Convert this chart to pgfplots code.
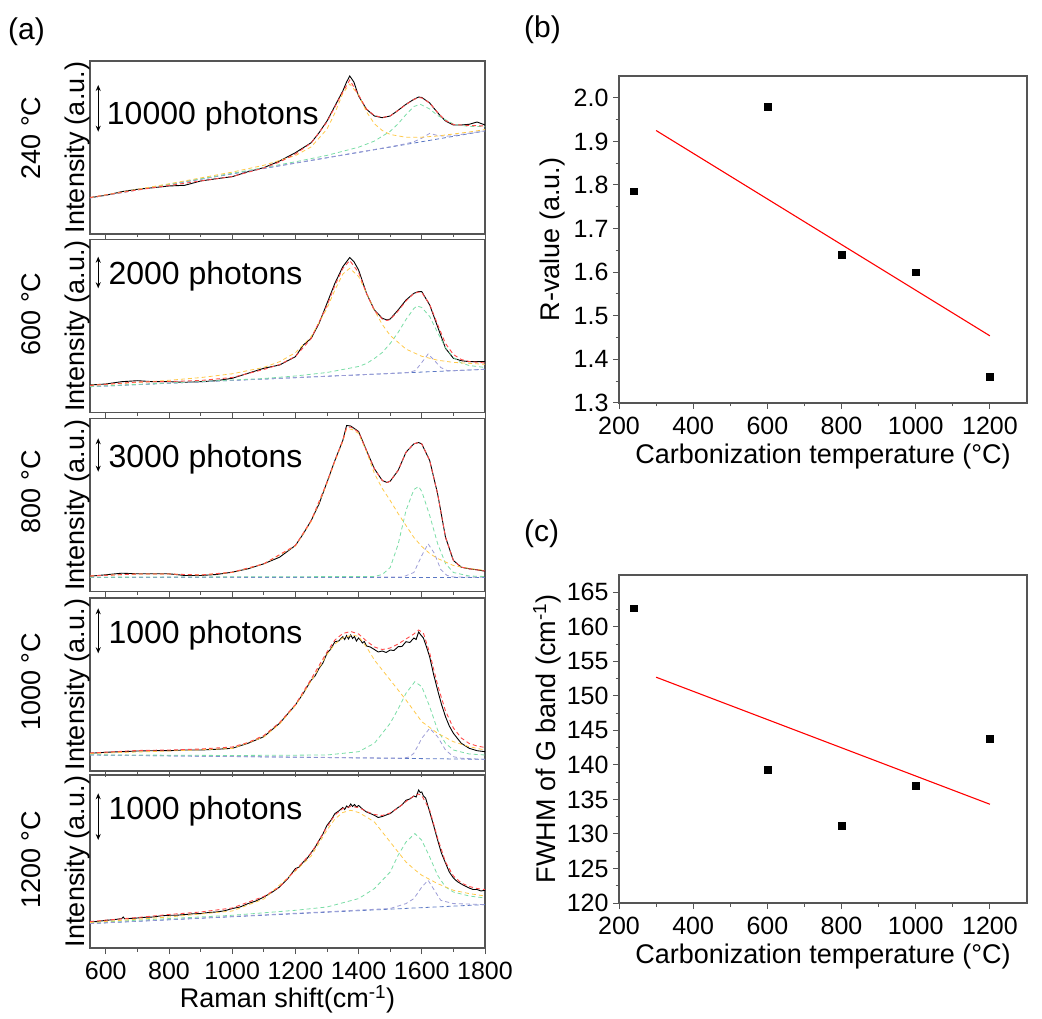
\documentclass[border=0pt]{standalone}
\usepackage{fontspec}
\setmainfont{Liberation Sans}
\usepackage{pgfplots}
\pgfplotsset{compat=1.18}
\usetikzlibrary{arrows.meta}

\definecolor{cY}{HTML}{FFC94A}
\definecolor{cG}{HTML}{7ADDA6}
\definecolor{cP}{HTML}{9C9CD6}
\definecolor{cB}{HTML}{5B78C4}
\definecolor{cR}{HTML}{FF4A4A}
\definecolor{axc}{HTML}{555555}

\tikzset{
  phot/.style={anchor=base west, inner sep=0pt, font=\fontsize{32}{36}\selectfont},
  arr/.style={line width=1pt, {Stealth[length=6pt,width=5pt]}-{Stealth[length=6pt,width=5pt]}},
}
\pgfplotsset{
  base/.style={scale only axis, tick align=outside,
    axis line style={axc, line width=1.2pt},
    every tick/.style={axc, line width=1pt},
    major tick length=6pt, minor tick length=3.5pt,
    tick label style={font=\fontsize{25}{29}\selectfont},
    xticklabel style={yshift=-5pt},
    yticklabel style={xshift=-1pt},
    label style={font=\fontsize{27}{31}\selectfont},
    /pgf/number format/assume math mode=true,
    /pgf/number format/1000 sep={}},
  spec/.style={base, width=395pt, height=173pt, anchor=south west,
    xmin=550, xmax=1800, ymin=0, ymax=173, ytick=\empty,
    xtick={600,800,...,1800}, minor x tick num=1, xtick pos=left,
    xticklabels=\empty,
    ylabel={Intensity (a.u.)},
    ylabel style={at={(axis description cs:-0.032,0.5)}, anchor=center}},
  dat/.style={black, line width=0.9pt},
  fitc/.style={cR, line width=0.9pt, dash pattern=on 4pt off 3pt},
  dD/.style={cY, line width=0.8pt, dash pattern=on 4pt off 3pt},
  dG/.style={cG, line width=0.8pt, dash pattern=on 4pt off 3pt},
  dP/.style={cP, line width=0.8pt, dash pattern=on 4pt off 3pt},
  dB/.style={cB, line width=0.8pt, dash pattern=on 4pt off 3pt},
}

\begin{document}
\begin{tikzpicture}
\useasboundingbox (0,0) rectangle (1042pt,1018pt);

% ---------- panel labels ----------
\node[font=\fontsize{30}{34}\selectfont] at (26.5pt,986.5pt) {(a)};
\node[font=\fontsize{30}{34}\selectfont] at (542.5pt,988pt) {(b)};
\node[font=\fontsize{30}{34}\selectfont] at (541.5pt,484.5pt) {(c)};

% temperature labels
\node[rotate=90, font=\fontsize{27}{30}\selectfont] at (31pt,880pt) {240 °C};
\node[rotate=90, font=\fontsize{27}{30}\selectfont] at (31pt,704pt) {600 °C};
\node[rotate=90, font=\fontsize{27}{30}\selectfont] at (31pt,526.3pt) {800 °C};
\node[rotate=90, font=\fontsize{27}{30}\selectfont] at (31pt,336.3pt) {1000 °C};
\node[rotate=90, font=\fontsize{27}{30}\selectfont] at (31pt,158pt) {1200 °C};

% ---------- panel 1: 240 C ----------
\begin{axis}[spec, at={(90pt,784pt)}]
\addplot[dat] coordinates {(550,36.3)(600,38.7)(650,42.3)(700,44.7)(750,46.3)(800,48)(850,48.7)(900,53)(950,55.3)(1000,57.3)(1050,62.3)(1100,66.3)(1150,73)(1200,81.3)(1225,86.3)(1250,91.3)(1275,101.3)(1300,113)(1325,128)(1350,143)(1362,152)(1372,158)(1385,152)(1400,138)(1425,124.7)(1450,118)(1475,116.3)(1500,118)(1525,123.7)(1550,129.7)(1575,134.7)(1590,137)(1600,136.5)(1625,131)(1650,121.3)(1675,113)(1700,109)(1725,109)(1750,109.7)(1775,112)(1800,109)};
\addplot[dB] coordinates {(550,36)(1800,103)};
\addplot[dP] coordinates {(550,36)(1500,87.2)(1550,90.3)(1575,92.3)(1600,95.8)(1625,100.6)(1650,98.5)(1675,97.7)(1700,98.4)(1800,103.2)};
\addplot[dG] coordinates {(550,36.2)(800,49.7)(1000,60.7)(1100,66.4)(1200,72.2)(1300,78.6)(1400,86.8)(1450,92.9)(1500,102.7)(1525,110.2)(1550,119.4)(1575,127.5)(1595,129.7)(1625,125)(1650,118.5)(1700,110)(1750,107.4)(1800,107.4)};
\addplot[dD] coordinates {(550,36.4)(800,50.2)(1000,61.9)(1100,68.7)(1200,78.4)(1250,87.1)(1300,104.9)(1325,121)(1350,140.6)(1372,150)(1400,139)(1425,122.2)(1450,110.2)(1475,103.5)(1500,99.5)(1550,96.7)(1600,96.8)(1650,98)(1700,100)(1750,102)(1800,104.4)};
\addplot[fitc] coordinates {(550,36.5)(700,44)(800,48.5)(900,53)(1000,57.5)(1100,66)(1150,72)(1200,80)(1250,91)(1300,112)(1325,127)(1350,142)(1372,154)(1400,139)(1425,125)(1450,118.5)(1475,116.5)(1500,118)(1525,123.5)(1550,129.5)(1575,134.5)(1590,136.5)(1600,136)(1625,131)(1650,121.5)(1675,113.5)(1700,109.5)(1750,108.5)(1800,108)};
\draw[arr] (axis cs:576,102.3) -- (axis cs:576,149);
\node[phot] at (axis cs:603,109.7) {10000 photons};
\end{axis}

% ---------- panel 2: 600 C ----------
\begin{axis}[spec, at={(90pt,605.5pt)}]
\addplot[dat] coordinates {(550,27.5)(600,28.5)(650,30.8)(700,31.8)(750,30.8)(800,30.8)(850,30.2)(900,30.8)(950,31.8)(1000,34.2)(1050,39.2)(1100,44.2)(1150,47.5)(1200,55.8)(1225,67.5)(1250,74.2)(1275,89.2)(1300,109.2)(1325,129.2)(1350,145.8)(1372,155)(1385,151)(1400,142.5)(1425,119.2)(1450,102.5)(1475,94.2)(1490,92.5)(1500,93.5)(1525,102.5)(1550,112.5)(1575,119.2)(1590,121)(1600,120.8)(1625,107.5)(1650,85.8)(1675,64.2)(1700,54.2)(1725,51.8)(1750,50.8)(1775,50.8)(1800,50.8)};
\addplot[dB] coordinates {(550,25.8)(1800,43.2)};
\addplot[dP] coordinates {(550,25.8)(1540,39.6)(1560,40.2)(1580,42)(1600,50)(1620,58.5)(1640,52)(1660,45)(1680,42)(1700,41.8)(1800,43.2)};
\addplot[dG] coordinates {(550,26)(800,29.5)(1000,32.5)(1100,34)(1200,36.5)(1300,40)(1350,43)(1400,46)(1425,49)(1450,54)(1475,60)(1500,69)(1525,80)(1550,93)(1575,104)(1585,106.5)(1600,105)(1625,96)(1650,80)(1675,65)(1700,55)(1725,49.5)(1750,47)(1800,45)};
\addplot[dD] coordinates {(550,27.2)(700,30)(800,32.2)(900,34.9)(1000,38.7)(1100,45.1)(1150,50.8)(1200,59.8)(1250,75.9)(1300,104.2)(1325,122.5)(1350,138.4)(1372,144.2)(1400,136)(1425,119.5)(1450,102.2)(1475,88)(1500,77)(1550,63.4)(1600,56.2)(1650,52.3)(1700,50.1)(1800,48.2)};
\addplot[fitc] coordinates {(550,27)(700,30.5)(800,31)(900,32)(1000,35)(1100,43)(1150,48)(1200,56)(1250,74)(1300,107)(1325,127)(1350,144)(1372,152)(1400,140)(1425,119)(1450,102)(1475,93.5)(1490,92)(1500,93)(1525,101.5)(1550,111.5)(1575,119)(1590,120.5)(1600,120)(1625,108)(1650,88)(1675,69)(1700,58)(1725,53)(1750,51)(1800,49.5)};
\draw[arr] (axis cs:576,124.2) -- (axis cs:576,155.8);
\node[phot] at (axis cs:608,127.5) {2000 photons};
\end{axis}

% ---------- panel 3: 800 C ----------
\begin{axis}[spec, at={(90pt,426.5pt)}]
\addplot[dat] coordinates {(550,15.3)(600,16.7)(650,18.3)(700,17.7)(750,17.7)(800,17.7)(850,16)(900,16)(950,17)(1000,19.3)(1050,22.7)(1100,27.7)(1150,34.3)(1200,46)(1225,57.7)(1250,71)(1275,87.7)(1300,109.3)(1325,131)(1350,151)(1362,166)(1375,165.5)(1400,160)(1425,141)(1450,122.7)(1475,111)(1490,109)(1500,110.3)(1525,121)(1550,139.3)(1575,147.7)(1590,149)(1600,147.5)(1625,131)(1650,97.7)(1675,54.3)(1700,31)(1725,24.3)(1750,22.7)(1775,21.7)(1800,20.3)};
\addplot[dB] coordinates {(550,14.3)(1800,14.3)};
\addplot[dP] coordinates {(550,14.3)(1540,14.5)(1575,19)(1600,36)(1620,47.7)(1640,38)(1660,22)(1680,16)(1700,14.5)(1800,14.3)};
\addplot[dG] coordinates {(550,14.3)(1450,15)(1475,17)(1500,24)(1525,47)(1550,81)(1575,102)(1590,105)(1600,100)(1625,76)(1650,48)(1675,28)(1700,19)(1750,15.5)(1800,15)};
\addplot[dD] coordinates {(550,15.5)(700,17.5)(800,17.5)(900,16.5)(1000,19)(1100,27.5)(1200,45.5)(1250,70)(1300,108)(1325,130)(1350,150)(1362,163)(1380,162)(1400,158)(1425,140)(1450,118)(1475,103)(1500,91)(1525,78)(1550,66)(1575,54)(1600,45)(1625,38)(1650,33)(1700,26)(1750,23)(1800,21)};
\addplot[fitc] coordinates {(550,15.5)(700,17.5)(800,17.5)(900,16.5)(1000,19.3)(1100,27.7)(1200,46)(1250,71)(1300,109.3)(1325,131)(1350,151)(1362,164)(1375,164.5)(1400,159.5)(1425,141)(1450,122.7)(1475,111)(1490,109)(1500,110.3)(1525,121)(1550,139.3)(1575,147.7)(1590,149)(1600,147.5)(1625,131)(1650,97.7)(1675,54.3)(1700,31)(1725,24.3)(1750,22.7)(1800,20.5)};
\draw[arr] (axis cs:576,119.8) -- (axis cs:576,153.2);
\node[phot] at (axis cs:608,124.3) {3000 photons};
\end{axis}

% ---------- panel 4: 1000 C ----------
\begin{axis}[spec, at={(90pt,247pt)}]
\addplot[dat] coordinates {(550,17.7)(600,18.7)(650,19.3)(700,20)(750,20.3)(800,20.3)(850,21)(900,21)(950,21.7)(1000,22.7)(1050,27.7)(1100,34.3)(1150,47.7)(1200,66)(1225,77.7)(1250,91)(1262,95)(1275,102.7)(1287,108)(1300,117.7)(1312,122)(1325,129.3)(1337,130)(1350,134.3)(1356,131.5)(1362,135.5)(1368,132)(1375,136)(1381,132.5)(1387,134.5)(1393,130)(1400,133)(1406,131)(1412,128)(1418,129.5)(1425,125)(1437,124)(1450,121.5)(1462,119)(1475,120)(1487,118.5)(1500,121)(1512,120.5)(1525,124.3)(1537,124.5)(1550,129.3)(1562,128.5)(1575,133)(1582,131.5)(1590,139)(1597,136)(1605,133)(1615,124)(1625,114)(1637,97)(1650,81)(1662,67)(1675,54.3)(1687,45)(1700,37.7)(1725,27.7)(1750,22.7)(1775,20.3)(1800,19.3)};
\addplot[dB] coordinates {(550,16)(1800,11.7)};
\addplot[dP] coordinates {(550,16)(1540,12.8)(1560,14)(1575,17.7)(1600,32.7)(1625,42.7)(1650,34.3)(1675,21)(1700,14.3)(1725,12.7)(1800,11.7)};
\addplot[dG] coordinates {(550,16.2)(1000,15.5)(1300,16)(1400,19.3)(1450,27.7)(1500,47.7)(1525,62)(1550,77.7)(1578,89.3)(1600,84.3)(1625,64.3)(1650,41)(1675,27.7)(1700,21)(1750,17)(1800,16)};
\addplot[dD] coordinates {(550,17.5)(800,20)(1000,22.5)(1100,34)(1150,47)(1200,65.5)(1250,90)(1300,116.5)(1325,127)(1350,133)(1380,136)(1400,134.5)(1425,124)(1450,111)(1500,91)(1550,71)(1600,49.3)(1650,37.7)(1700,29.3)(1750,24.3)(1800,21)};
\addplot[fitc] coordinates {(550,18)(700,20.5)(800,21)(900,22)(1000,24)(1050,28.5)(1100,35.5)(1150,48.5)(1200,66.5)(1250,92)(1300,119)(1325,131)(1350,137.5)(1375,139.5)(1400,137)(1425,130)(1450,124)(1475,121.5)(1500,123)(1525,127)(1550,132)(1575,137)(1590,141)(1605,138)(1625,118)(1650,86)(1675,60)(1700,43)(1725,33)(1750,27.5)(1775,25)(1800,23.5)};
\draw[arr] (axis cs:576,117.7) -- (axis cs:576,162.7);
\node[phot] at (axis cs:608,127.7) {1000 photons};
\end{axis}

% ---------- panel 5: 1200 C ----------
\begin{axis}[spec, at={(90pt,70pt)},
  xticklabels={600,800,1000,1200,1400,1600,1800},
  xlabel={Raman shift(cm\textsuperscript{-1})},
  xlabel style={at={(axis description cs:0.5,-0.297)}, anchor=center, inner sep=0pt}]
\addplot[dat] coordinates {(550,26)(575,26.5)(600,27.7)(625,28.3)(650,29.4)(655,31)(660,29.2)(700,30)(725,30.7)(750,31)(775,32.2)(800,32.7)(825,32.8)(850,33.4)(875,34.2)(900,34.4)(925,35.5)(950,36)(975,37.2)(1000,39.4)(1025,41)(1050,44.4)(1075,47)(1100,51)(1125,55.5)(1150,61)(1175,69)(1200,79.4)(1212,81)(1225,86)(1237,89.5)(1250,95.4)(1262,100.5)(1275,107.7)(1287,114)(1300,122.7)(1312,127.5)(1325,134.4)(1337,137)(1350,140.5)(1356,138.5)(1362,142)(1368,140.5)(1375,144)(1381,141.5)(1387,143.5)(1393,141)(1400,142.5)(1412,139)(1425,136)(1437,134.5)(1450,132.7)(1462,130.5)(1475,131.5)(1487,133)(1500,134.4)(1512,137.5)(1525,140.5)(1537,143)(1550,147.7)(1562,149)(1575,152)(1582,151)(1590,158)(1595,155.5)(1600,156)(1605,152)(1612,150)(1625,136)(1637,123)(1650,108)(1662,95)(1675,85)(1687,76)(1700,70)(1712,66.5)(1725,64)(1737,62)(1750,60)(1762,58.5)(1775,58.5)(1787,57)(1800,57.7)};
\addplot[dB] coordinates {(550,24.4)(1800,43.4)};
\addplot[dP] coordinates {(550,24.4)(1500,39.5)(1550,44.4)(1575,49.4)(1600,61)(1620,67.7)(1640,57.7)(1660,47.7)(1700,44.4)(1800,43.4)};
\addplot[dG] coordinates {(550,25.4)(800,29.4)(1000,32.7)(1200,37.7)(1300,41)(1400,49.4)(1450,59.4)(1500,76)(1525,92.7)(1550,106)(1578,114.4)(1600,107.7)(1625,91)(1650,72.7)(1675,61)(1700,56)(1750,52)(1800,50)};
\addplot[dD] coordinates {(550,25.5)(800,31)(1000,37)(1100,49)(1200,77)(1250,92)(1300,118)(1325,129)(1350,135.5)(1375,137.7)(1400,135.5)(1425,131)(1450,126)(1475,116)(1500,106)(1525,96)(1550,86)(1575,79)(1600,72.7)(1650,64.4)(1700,57.7)(1750,54.4)(1800,52)};
\addplot[fitc] coordinates {(550,26.5)(700,30.5)(800,33.5)(900,36)(1000,40)(1100,51.5)(1150,61)(1200,78)(1250,95)(1300,121)(1325,133)(1350,139.5)(1375,141.5)(1400,140.5)(1425,136.5)(1450,133.5)(1475,132.5)(1500,135)(1525,140)(1550,146.5)(1575,152)(1590,154)(1600,152.5)(1625,138)(1650,110)(1675,86)(1700,72)(1725,65)(1750,61.5)(1775,59.5)(1800,58.5)};
\draw[arr] (axis cs:576,108) -- (axis cs:576,154.7);
\node[phot] at (axis cs:608,128) {1000 photons};
\end{axis}

% ---------- panel (b) ----------
\begin{axis}[base, width=408pt, height=327pt, at={(619pt,615pt)}, anchor=south west,
  xmin=200, xmax=1300, ymin=1.3, ymax=2.05,
  xtick={200,400,...,1200}, ytick={1.3,1.4,1.5,1.6,1.7,1.8,1.9,2.0},
  minor x tick num=1, minor y tick num=1, tick pos=left,
  yticklabel style={/pgf/number format/.cd, fixed, fixed zerofill, precision=1},
  xlabel={Carbonization temperature (°C)},
  ylabel={R-value (a.u.)},
  xlabel style={at={(axis description cs:0.5,-0.165)}, anchor=center},
  ylabel style={at={(axis description cs:-0.163,0.5)}, anchor=center}]
\addplot[red, line width=1.1pt] coordinates {(300,1.925)(1200,1.454)};
\addplot[only marks, mark=square*, mark size=3.4pt, black] coordinates {(240,1.786)(600,1.98)(800,1.64)(1000,1.60)(1200,1.361)};
\end{axis}

% ---------- panel (c) ----------
\begin{axis}[base, width=408pt, height=328pt, at={(619pt,115pt)}, anchor=south west,
  xmin=200, xmax=1300, ymin=120, ymax=167.5,
  xtick={200,400,...,1200}, ytick={120,125,...,165},
  minor x tick num=1, minor y tick num=1, tick pos=left,
  xlabel={Carbonization temperature (°C)},
  ylabel={FWHM of G band (cm\textsuperscript{-1})},
  xlabel style={at={(axis description cs:0.5,-0.1646)}, anchor=center},
  ylabel style={at={(axis description cs:-0.1765,0.5)}, anchor=center}]
\addplot[red, line width=1.1pt] coordinates {(300,152.7)(1200,134.3)};
\addplot[only marks, mark=square*, mark size=3.4pt, black] coordinates {(240,162.7)(600,139.3)(800,131.2)(1000,137.0)(1200,143.8)};
\end{axis}
\end{tikzpicture}
\end{document}
